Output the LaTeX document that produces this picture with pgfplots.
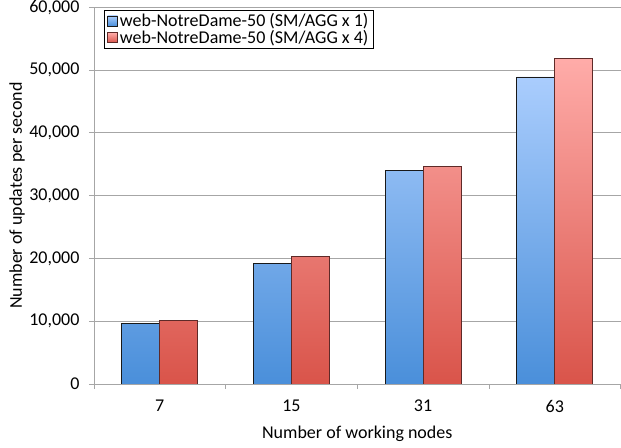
\documentclass[border=0pt]{standalone}
\usepackage{fontspec}
\setmainfont{Carlito}
\usepackage{pgfplots}
\pgfplotsset{compat=1.18}

\definecolor{blueTop}{HTML}{AACDFD}
\definecolor{blueBot}{HTML}{4A8FDA}
\definecolor{redTop}{HTML}{FFACA9}
\definecolor{redBot}{HTML}{D9544A}
\definecolor{redEdge}{HTML}{5E2A28}
\definecolor{axisGray}{HTML}{A6A6A6}

\begin{document}
\begin{tikzpicture}
\begin{axis}[
  scale only axis,
  width=527pt, height=377pt,
  font=\fontsize{18}{21}\selectfont,
  ybar=0pt, bar width=38pt,
  xmin=-0.5, xmax=3.5,
  ymin=0, ymax=60000,
  xtick={0,1,2,3},
  xticklabels={7,15,31,63},
  minor xtick={-0.5,0.5,1.5,2.5,3.5},
  major x tick style={draw=none},
  minor x tick style={axisGray, line width=0.8pt},
  minor tick length=5pt,
  ytick={0,10000,...,60000},
  scaled y ticks=false,
  major tick length=5pt,
  tick align=outside,
  y tick style={axisGray, line width=0.8pt},
  ymajorgrids,
  grid style={axisGray, line width=0.8pt},
  axis x line*=bottom,
  axis y line*=left,
  axis line style={axisGray, line width=0.8pt, -},
  /pgf/number format/.cd, fixed, 1000 sep={,}, assume math mode=true,
  /pgfplots/.cd,
  yticklabel style={xshift=-6pt, inner ysep=0pt},
  xticklabel style={yshift=-11pt, inner ysep=0pt},
  xlabel={Number of working nodes},
  ylabel={Number of updates per second},
  every axis x label/.style={at={(rel axis cs:0.5,0)}, anchor=center, yshift=-50pt, inner ysep=0pt},
  every axis y label/.style={at={(rel axis cs:0,0.5)}, xshift=-77pt, anchor=center, rotate=90},
  legend style={at={(0.019,0.992)}, anchor=north west, draw=black, line width=0.8pt,
    inner xsep=3pt, inner ysep=1pt, row sep=-2pt,
    font=\fontsize{18}{21}\selectfont},
  legend cell align=left,
  legend image code/.code={\draw[#1, line width=0.6pt] (0pt,-5pt) rectangle (10pt,5pt);},
]
\addplot[draw=black!90, line width=0.8pt, top color=blueTop, bottom color=blueBot]
  coordinates {(0,9700) (1,19200) (2,33950) (3,48900)};
\addplot[draw=redEdge, line width=0.8pt, top color=redTop, bottom color=redBot]
  coordinates {(0,10150) (1,20250) (2,34700) (3,51900)};
\legend{web-NotreDame-50 (SM/AGG x 1), web-NotreDame-50 (SM/AGG x 4)}
\end{axis}
\path ([xshift=-94pt,yshift=-64pt]current axis.south west)
  rectangle ([yshift=5pt]current axis.north east);
\end{tikzpicture}
\end{document}
